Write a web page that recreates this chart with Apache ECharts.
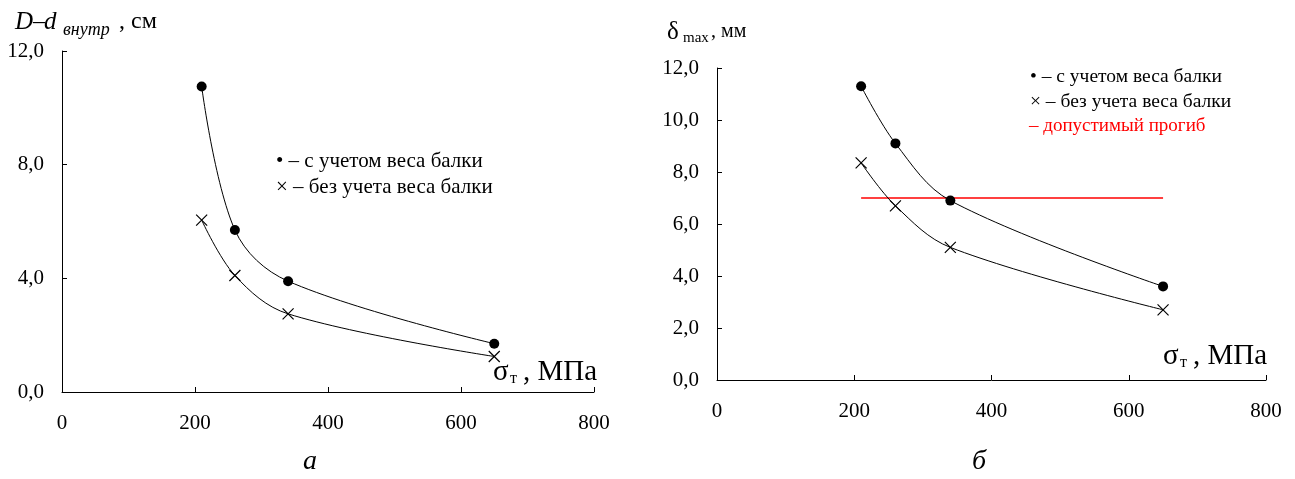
<!DOCTYPE html>
<html><head><meta charset="utf-8">
<script src="https://cdn.jsdelivr.net/npm/echarts@6/dist/echarts.min.js"></script>
<style>html,body{margin:0;padding:0;background:#fff}#c{width:1295px;height:479px}</style>
</head><body><div id="c"></div>
<script>
// ---- data ----
const sigmaT = [210, 260, 340, 650];
const leftWithWeight = [10.75, 5.7, 3.9, 1.7];
const leftNoWeight = [6.05, 4.1, 2.75, 1.25];
const rightWithWeight = [11.3, 9.1, 6.9, 3.6];
const rightNoWeight = [8.35, 6.7, 5.1, 2.7];
const allowedX = [210, 650];
const allowedY = [7.0, 7.0];
const xTicks = { min: 0, max: 800, step: 200 };
const leftYTicks = { min: 0, max: 12, step: 4 };
const rightYTicks = { min: 0, max: 12, step: 2 };
const legendLabels = ['• – с учетом веса балки', '× – без учета веса балки', '– допустимый прогиб'];

const FONT = '"Liberation Serif", serif';
const pairs = (xs, ys) => xs.map((x, i) => [x, ys[i]]);
const fmtY = v => v.toFixed(1).replace('.', ',');
const crossPath = 'path://M0,0L10,10M10,0L0,10';

function xAxis(gi) {
  return {
    gridIndex: gi, type: 'value', min: xTicks.min, max: xTicks.max, interval: xTicks.step,
    axisLine: { onZero: false, lineStyle: { color: '#000', width: 1 } },
    axisTick: { inside: true, length: 5, lineStyle: { color: '#000' } },
    axisLabel: { color: '#000', fontFamily: FONT, fontSize: 21, margin: 21 },
    splitLine: { show: false }
  };
}
function yAxis(gi, t) {
  return {
    gridIndex: gi, type: 'value', min: t.min, max: t.max, interval: t.step,
    axisLine: { show: true, onZero: false, lineStyle: { color: '#000', width: 1 } },
    axisTick: { show: true, inside: true, length: 5, lineStyle: { color: '#000' } },
    axisLabel: { color: '#000', fontFamily: FONT, fontSize: 21, margin: 18, formatter: fmtY },
    splitLine: { show: false }
  };
}
function curve(gi, ys, dot) {
  return {
    type: 'line', xAxisIndex: gi, yAxisIndex: gi, data: pairs(sigmaT, ys),
    smooth: 0.35,
    lineStyle: { color: '#000', width: 1 },
    symbol: dot ? 'circle' : crossPath, symbolSize: dot ? 10 : 11,
    itemStyle: dot ? { color: '#000' } : { color: '#000', borderColor: '#000', borderWidth: 1.2 },
    z: 3, animation: false
  };
}
function txt(x, y, s, size, opts) {
  return {
    type: 'text', x: x, y: y,
    style: Object.assign({ text: s, fontFamily: FONT, fontSize: size, fill: '#000', align: 'left', verticalAlign: 'middle' }, opts || {})
  };
}
function sigmaName(xRight, y) {
  return [
    txt(xRight - 104, y, 'σ', 29),
    txt(xRight - 87, y + 7, 'т', 16),
    txt(xRight, y, ', МПа', 29, { align: 'right' })
  ];
}

const chart = echarts.init(document.getElementById('c'), null, { renderer: 'canvas' });
chart.setOption({
  animation: false,
  backgroundColor: '#fff',
  textStyle: { fontFamily: FONT },
  grid: [
    { left: 62, top: 51, width: 532, height: 341 },
    { left: 717, top: 68, width: 549, height: 312 }
  ],
  xAxis: [xAxis(0), xAxis(1)],
  yAxis: [yAxis(0, leftYTicks), yAxis(1, rightYTicks)],
  series: [
    curve(0, leftWithWeight, true),
    curve(0, leftNoWeight, false),
    { type: 'line', xAxisIndex: 1, yAxisIndex: 1, data: pairs(allowedX, allowedY), symbol: 'none',
      lineStyle: { color: '#ff0000', width: 1.5 }, z: 2 },
    curve(1, rightWithWeight, true),
    curve(1, rightNoWeight, false)
  ],
  graphic: [
    txt(15, 22, 'D', 25, { fontStyle: 'italic' }),
    txt(33, 22, '–', 24),
    txt(44, 22, 'd', 25, { fontStyle: 'italic' }),
    txt(63, 30, 'внутр', 18, { fontStyle: 'italic' }),
    txt(119, 22, ', см', 24),
    txt(667, 32, 'δ', 25),
    txt(683, 38, 'max', 15),
    txt(711, 32, ', мм', 20),
    ...sigmaName(597, 372),
    ...sigmaName(1267, 356),
    txt(276, 161, legendLabels[0], 21),
    txt(276, 187, legendLabels[1], 21),
    txt(1030, 77, legendLabels[0], 19.5),
    txt(1030, 102, legendLabels[1], 19.5),
    txt(1029, 126, legendLabels[2], 19, { fill: '#ff0000' }),
    txt(310, 462, 'а', 28, { fontStyle: 'italic', align: 'center' }),
    txt(979, 462, 'б', 28, { fontStyle: 'italic', align: 'center' })
  ]
});
</script></body></html>
